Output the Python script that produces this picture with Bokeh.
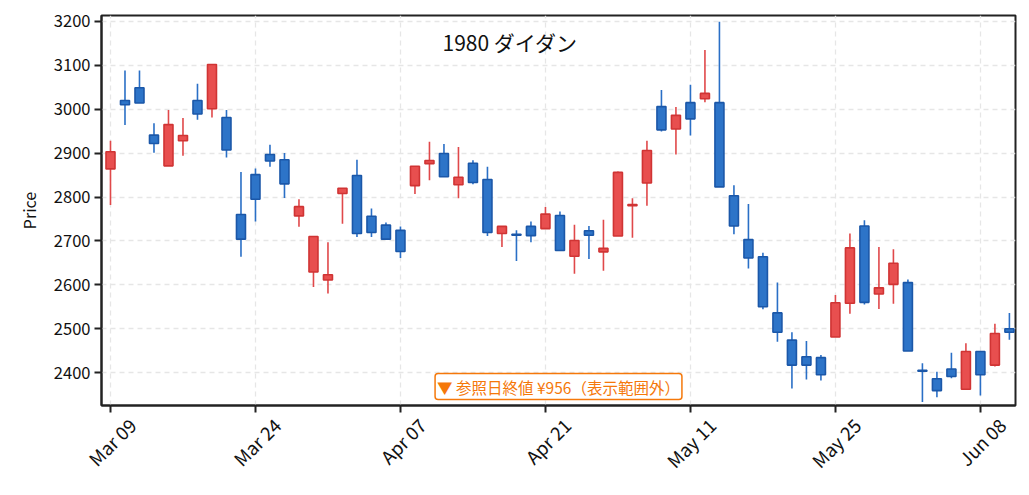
import pandas as pd
from bokeh.plotting import figure
from bokeh.models import Range1d, FixedTicker, ColumnDataSource, Label, SingleIntervalTicker
from bokeh.embed import file_html
from bokeh.resources import INLINE

FONT = "Noto Sans CJK JP"

dates = ["2026-03-09", "2026-03-10", "2026-03-11", "2026-03-12", "2026-03-13",
         "2026-03-16", "2026-03-17", "2026-03-18", "2026-03-19", "2026-03-23",
         "2026-03-24", "2026-03-25", "2026-03-26", "2026-03-27", "2026-03-30",
         "2026-03-31", "2026-04-01", "2026-04-02", "2026-04-03", "2026-04-06",
         "2026-04-07", "2026-04-08", "2026-04-09", "2026-04-10", "2026-04-13",
         "2026-04-14", "2026-04-15", "2026-04-16", "2026-04-17", "2026-04-20",
         "2026-04-21", "2026-04-22", "2026-04-23", "2026-04-24", "2026-04-27",
         "2026-04-28", "2026-04-30", "2026-05-01", "2026-05-07", "2026-05-08",
         "2026-05-11", "2026-05-12", "2026-05-13", "2026-05-14", "2026-05-15",
         "2026-05-18", "2026-05-19", "2026-05-20", "2026-05-21", "2026-05-22",
         "2026-05-25", "2026-05-26", "2026-05-27", "2026-05-28", "2026-05-29",
         "2026-06-01", "2026-06-02", "2026-06-03", "2026-06-04", "2026-06-05",
         "2026-06-08", "2026-06-09", "2026-06-10"]

opens = [2864, 3020, 3049, 2941, 2871, 2928, 3020, 3001, 2981, 2760,
         2851, 2897, 2885, 2757, 2629, 2611, 2808, 2849, 2756, 2736,
         2724, 2826, 2876, 2899, 2828, 2877, 2840, 2717, 2715, 2733,
         2728, 2758, 2665, 2723, 2675, 2711, 2780, 2832, 3006, 2955,
         3015, 3024, 3015, 2803, 2703, 2664, 2536, 2474, 2436, 2434,
         2481, 2558, 2734, 2579, 2601, 2605, 2405, 2386, 2408, 2362,
         2448, 2417, 2500]
highs = [2928, 3088, 3088, 2968, 2998, 2980, 3058, 3102, 2998, 2857,
         2865, 2919, 2900, 2795, 2710, 2697, 2820, 2885, 2774, 2742,
         2733, 2870, 2926, 2921, 2914, 2884, 2869, 2733, 2724, 2744,
         2777, 2767, 2737, 2734, 2748, 2858, 2797, 2928, 3044, 3005,
         3056, 3135, 3199, 2827, 2784, 2673, 2605, 2492, 2472, 2440,
         2577, 2717, 2747, 2686, 2681, 2612, 2421, 2402, 2445, 2467,
         2448, 2511, 2536]
lows = [2782, 2964, 3014, 2901, 2871, 2894, 2976, 2981, 2890, 2664,
        2744, 2869, 2798, 2732, 2595, 2580, 2739, 2709, 2709, 2704,
        2661, 2807, 2838, 2846, 2797, 2829, 2711, 2686, 2654, 2697,
        2728, 2678, 2625, 2659, 2632, 2711, 2707, 2780, 2949, 2897,
        2940, 3016, 2823, 2715, 2637, 2544, 2470, 2364, 2384, 2382,
        2481, 2534, 2555, 2545, 2557, 2449, 2333, 2344, 2387, 2362,
        2348, 2414, 2475]
closes = [2903, 3010, 3014, 2922, 2965, 2940, 2989, 3102, 2907, 2704,
          2795, 2882, 2830, 2778, 2710, 2623, 2820, 2717, 2719, 2704,
          2676, 2870, 2883, 2846, 2845, 2833, 2719, 2733, 2713, 2712,
          2761, 2678, 2701, 2713, 2683, 2856, 2783, 2906, 2953, 2986,
          2978, 3036, 2823, 2734, 2661, 2550, 2492, 2417, 2417, 2395,
          2559, 2684, 2560, 2593, 2649, 2449, 2403, 2359, 2391, 2448,
          2395, 2489, 2492]

title_text = "1980  ダイダン"
note_text = "▼ 参照日終値 ¥956（表示範囲外）"
y_label = "Price"
tick_step = 10

idx = list(range(len(dates)))
labels = [pd.Timestamp(d).strftime("%b %d") for d in dates]
tick_idx = idx[::tick_step]
LABEL_SHIFT = 1.5  # rotated labels are centred under their tick
label_pos = [i + LABEL_SHIFT for i in tick_idx]

UP_FILL, UP_LINE = "#e84f4f", "#d03434"
DN_FILL, DN_LINE = "#2d74c8", "#1b57a8"

up = [c >= o for o, c in zip(opens, closes)]
src = ColumnDataSource(dict(
    x=idx, o=opens, h=highs, l=lows, c=closes,
    top=[max(o, c) for o, c in zip(opens, closes)],
    bot=[min(o, c) for o, c in zip(opens, closes)],
    fill=[UP_FILL if u else DN_FILL for u in up],
    line=[UP_LINE if u else DN_LINE for u in up],
    wick=["#e0484a" if u else "#2a6fc6" for u in up],
))

p = figure(width=1021, height=487, output_backend="svg", toolbar_location=None,
           x_range=Range1d(-0.62, 62.42), y_range=Range1d(2325, 3213.5),
           min_border_left=101, min_border_right=6, min_border_top=15, min_border_bottom=82)

p.segment(x0="x", y0="l", x1="x", y1="h", source=src, line_color="wick", line_width=1.6)
p.vbar(x="x", width=0.62, top="top", bottom="bot", source=src,
       fill_color="fill", line_color="line", line_width=1.6)

# labels sit on (shifted) major ticks; visible tick marks are the minor ticks at the dates
p.xaxis.ticker = FixedTicker(ticks=label_pos, minor_ticks=tick_idx)
p.xaxis.major_label_overrides = {pos: labels[i] for pos, i in zip(label_pos, tick_idx)}
p.xaxis.major_label_orientation = 0.785
p.yaxis.ticker = SingleIntervalTicker(interval=100)
p.yaxis.axis_label = y_label
p.xgrid.ticker = FixedTicker(ticks=tick_idx)

for ax in (p.xaxis[0], p.yaxis[0]):
    ax.axis_line_color = "#222222"
    ax.axis_line_width = 2
    ax.major_tick_line_color = "#222222"
    ax.major_tick_line_width = 2
    ax.major_tick_out = 7
    ax.major_tick_in = 0
    ax.minor_tick_line_color = None
    ax.major_label_text_font = FONT
    ax.major_label_text_color = "#111111"
    ax.axis_label_text_font = FONT
    ax.axis_label_text_color = "#111111"
    ax.axis_label_text_font_style = "normal"
xa = p.xaxis[0]
xa.major_tick_line_color = None
xa.minor_tick_line_color = "#222222"
xa.minor_tick_line_width = 2
xa.minor_tick_out = 7
xa.minor_tick_in = 0
xa.major_label_standoff = 9
xa.major_label_text_font_size = "18.5px"
p.yaxis.major_label_text_font_size = "16.5px"
p.yaxis.axis_label_text_font_size = "16px"
p.yaxis.axis_label_standoff = 10
p.yaxis.major_label_standoff = 4

p.outline_line_color = "#222222"
p.outline_line_width = 2
p.grid.grid_line_color = "#e6e6e6"
p.grid.grid_line_dash = "5 4"
p.grid.grid_line_width = 1.3

p.add_layout(Label(x=411, y=364, x_units="screen", y_units="screen", text=title_text,
                   text_font=FONT, text_font_size="21px", text_color="#111111",
                   text_align="center", text_baseline="middle"))
p.add_layout(Label(x=457, y=19, x_units="screen", y_units="screen", text=note_text,
                   text_font=FONT, text_font_size="15.5px", text_color="#f5780a",
                   text_align="center", text_baseline="middle",
                   background_fill_color="white", border_line_color="#f5780a",
                   border_line_width=1.5, padding=2, border_radius=3))

open("out.html", "w").write(file_html(p, INLINE))
